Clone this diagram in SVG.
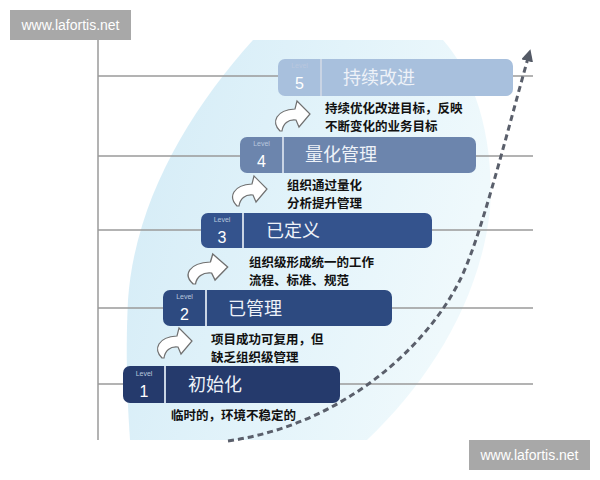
<svg xmlns="http://www.w3.org/2000/svg" width="600" height="480" viewBox="0 0 600 480">
<defs>
<linearGradient id="blobGrad" x1="0" y1="0" x2="1" y2="0.3">
<stop offset="0" stop-color="#d3ebf6"/>
<stop offset="0.55" stop-color="#e2f3fa"/>
<stop offset="1" stop-color="#eff9fc"/>
</linearGradient>
<marker id="arrowHead" markerUnits="userSpaceOnUse" markerWidth="14" markerHeight="14" refX="3" refY="6" orient="auto">
<path d="M0,0 L12,6 L0,12 Z" fill="#545a66"/>
</marker>
<path id="curvedArrow" d="M8,31 C-1,22 4,10 23,9 L25,1 L38,14 L27,27 L24,20 C16,19 11,24 10,31 Z"/>
</defs>
<style>
.grid{stroke:#9a9a9a;stroke-width:1.5;fill:none}
.divider{stroke:#c9d4e4;stroke-width:2}
.lvl{font-family:"Liberation Sans","Noto Sans",sans-serif;font-size:7px;fill:#b9c7dd;text-anchor:middle}
.num{font-family:"Liberation Sans","Noto Sans",sans-serif;font-size:16px;fill:#ffffff;text-anchor:middle}
.title{font-family:"Noto Sans CJK SC","Noto Sans",sans-serif;font-size:18px;fill:#eef2f8}
.desc{font-family:"Noto Sans CJK SC","Noto Sans",sans-serif;font-size:12.5px;font-weight:bold;fill:#111111}
.wm{fill:#a8a8a8}
.wmt{font-family:"Liberation Sans","Noto Sans",sans-serif;font-size:14px;fill:#ffffff;text-anchor:middle}
.step{fill:#ffffff;stroke:#707070;stroke-width:1.2}
</style>
<rect width="600" height="480" fill="#ffffff"/>
<g id="background">
<path d="M253,40 C190,110 135,200 128,300 C125,360 128,410 130,440 L367,440 C430,380 480,300 490,210 C495,130 470,70 443,40 Z" fill="url(#blobGrad)"/>
<line class="grid" x1="98" y1="40" x2="98" y2="440"/>
<line class="grid" x1="98" y1="76" x2="533" y2="76"/>
<line class="grid" x1="98" y1="156" x2="533" y2="156"/>
<line class="grid" x1="98" y1="230" x2="533" y2="230"/>
<line class="grid" x1="98" y1="308" x2="533" y2="308"/>
<line class="grid" x1="98" y1="384" x2="533" y2="384"/>
</g>
<g id="connectors">
<path d="M228,441 C340,425 425,350 460,280 C480,240 505,140 528,58" fill="none" stroke="#5a5f6b" stroke-width="3" stroke-dasharray="6,4" marker-end="url(#arrowHead)"/>
<use href="#curvedArrow" class="step" transform="translate(154,327)"/>
<use href="#curvedArrow" class="step" transform="translate(184,253) scale(1.15,1)"/>
<use href="#curvedArrow" class="step" transform="translate(229,175)"/>
<use href="#curvedArrow" class="step" transform="translate(272,100)"/>
</g>
<g id="level1">
<rect x="123" y="366" width="217" height="37" rx="7" fill="#253a6c"/>
<line class="divider" x1="165" y1="366" x2="165" y2="403"/>
<text class="lvl" x="144" y="376">Level</text>
<text class="num" x="144" y="397">1</text>
<text class="title" x="188" y="391">初始化</text>
<text class="desc" x="171" y="420">临时的，环境不稳定的</text>
</g>
<g id="level2">
<rect x="163" y="290" width="229" height="36" rx="7" fill="#2d4a80"/>
<line class="divider" x1="206" y1="290" x2="206" y2="326"/>
<text class="lvl" x="184.5" y="299">Level</text>
<text class="num" x="184.5" y="320">2</text>
<text class="title" x="228" y="315">已管理</text>
<text class="desc" x="211" y="344">项目成功可复用，但</text>
<text class="desc" x="211" y="362">缺乏组织级管理</text>
</g>
<g id="level3">
<rect x="201" y="213" width="231" height="35" rx="7" fill="#34538d"/>
<line class="divider" x1="243" y1="213" x2="243" y2="248"/>
<text class="lvl" x="222" y="222">Level</text>
<text class="num" x="222" y="243">3</text>
<text class="title" x="266" y="237">已定义</text>
<text class="desc" x="249" y="267">组织级形成统一的工作</text>
<text class="desc" x="249" y="285">流程、标准、规范</text>
</g>
<g id="level4">
<rect x="240" y="137" width="236" height="36" rx="7" fill="#6c85ad"/>
<line class="divider" x1="283" y1="137" x2="283" y2="173"/>
<text class="lvl" x="261.5" y="146">Level</text>
<text class="num" x="261.5" y="167">4</text>
<text class="title" x="305" y="161">量化管理</text>
<text class="desc" x="287" y="190">组织通过量化</text>
<text class="desc" x="287" y="208">分析提升管理</text>
</g>
<g id="level5">
<rect x="278" y="59" width="235" height="37" rx="7" fill="#a8c0dd"/>
<line class="divider" x1="321" y1="59" x2="321" y2="96"/>
<text class="lvl" x="299.5" y="68">Level</text>
<text class="num" x="299.5" y="89">5</text>
<text class="title" x="343" y="84">持续改进</text>
<text class="desc" x="325" y="113">持续优化改进目标，反映</text>
<text class="desc" x="325" y="131">不断变化的业务目标</text>
</g>
<g id="watermarks">
<rect class="wm" x="10" y="10" width="121" height="30"/>
<text class="wmt" x="70.5" y="30">www.lafortis.net</text>
<rect class="wm" x="469" y="440" width="121" height="30"/>
<text class="wmt" x="529.5" y="460">www.lafortis.net</text>
</g>
</svg>
